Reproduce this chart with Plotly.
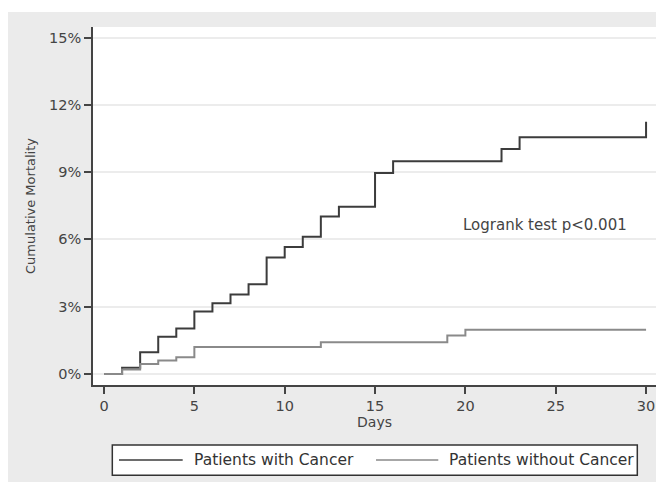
import plotly.graph_objects as go

days_cancer = [0, 1, 2, 3, 4, 5, 6, 7, 8, 9, 10, 11, 12, 13, 15, 16, 22, 23, 30]
mort_cancer = [0, 0.28, 0.97, 1.66, 2.03, 2.79, 3.16, 3.54, 4.0, 5.19, 5.66, 6.12, 7.02, 7.46, 8.96, 9.49, 10.03, 10.55, 11.25]

days_nocancer = [0, 1, 2, 3, 4, 5, 12, 19, 20, 30]
mort_nocancer = [0, 0.2, 0.45, 0.6, 0.75, 1.2, 1.42, 1.72, 1.97, 1.97]

series_names = ["Patients with Cancer", "Patients without Cancer"]
series_colors = ["#3c3c3c", "#8a8a8a"]

y_ticks = [0, 3, 6, 9, 12, 15]
y_ticktext = ["0%", "3%", "6%", "9%", "12%", "15%"]
x_ticks = [0, 5, 10, 15, 20, 25, 30]

FONT = "DejaVu Sans"

fig = go.Figure()
fig.add_trace(go.Scatter(x=days_cancer, y=mort_cancer, mode="lines", line_shape="hv",
                         line=dict(color=series_colors[0], width=2), name=series_names[0],
                         showlegend=False))
fig.add_trace(go.Scatter(x=days_nocancer, y=mort_nocancer, mode="lines", line_shape="hv",
                         line=dict(color=series_colors[1], width=2), name=series_names[1],
                         showlegend=False))

# outer gray panel and white plot region
fig.add_shape(type="rect", xref="paper", yref="paper", x0=-0.151, x1=1.007, y0=-0.271, y1=1.042,
              fillcolor="#ebebeb", line_width=0, layer="below")
fig.add_shape(type="rect", xref="paper", yref="paper", x0=0, x1=1, y0=0, y1=1,
              fillcolor="white", line_width=0, layer="below")

# legend box (drawn manually to match the original's key layout)
fig.add_shape(type="rect", xref="paper", yref="paper", x0=0.0343, x1=0.9668, y0=-0.2522, y1=-0.1676,
              fillcolor="white", line=dict(color="#333", width=1.5), layer="above")
leg_line_x = [(0.0462, 0.1593), (0.5027, 0.6133)]
leg_text_x = [0.1782, 0.6311]
for i in range(2):
    fig.add_shape(type="line", xref="paper", yref="paper", x0=leg_line_x[i][0], x1=leg_line_x[i][1],
                  y0=-0.2095, y1=-0.2095, line=dict(color=series_colors[i], width=1.5), layer="above")
    fig.add_annotation(x=leg_text_x[i], y=-0.2095, xref="paper", yref="paper", text=series_names[i],
                       showarrow=False, xanchor="left", yanchor="middle", borderpad=0,
                       font=dict(family=FONT, size=15.5, color="#333"))

fig.add_annotation(x=0.8028, y=0.447, xref="paper", yref="paper", text="Logrank test p<0.001",
                   showarrow=False, xanchor="center", yanchor="middle",
                   font=dict(family=FONT, size=15, color="#444"))

fig.update_layout(
    width=656, height=476,
    margin=dict(l=85, r=8, t=19, b=99),
    paper_bgcolor="white", plot_bgcolor="white",
    font=dict(family=FONT, color="#444"),
    showlegend=False,
)
fig.update_xaxes(range=[-0.61, 30.55], tickvals=x_ticks, showgrid=False, zeroline=False,
                 showline=True, linecolor="#444", linewidth=1.5,
                 ticks="outside", ticklen=7, tickcolor="#444", tickwidth=1.5,
                 tickfont=dict(family=FONT, size=14.5, color="#444"),
                 title=dict(text="Days", font=dict(family=FONT, size=14, color="#444"), standoff=4))
fig.update_yaxes(range=[-0.49, 15.47], tickvals=y_ticks, ticktext=y_ticktext, showgrid=True,
                 gridcolor="#ececec", gridwidth=1.5, zeroline=False,
                 showline=True, linecolor="#444", linewidth=1.5,
                 ticks="outside", ticklen=7, tickcolor="#444", tickwidth=1.5,
                 tickfont=dict(family=FONT, size=14.5, color="#444"),
                 title=dict(text="Cumulative Mortality", font=dict(family=FONT, size=13, color="#444"), standoff=11))

fig.write_html("out.html")
